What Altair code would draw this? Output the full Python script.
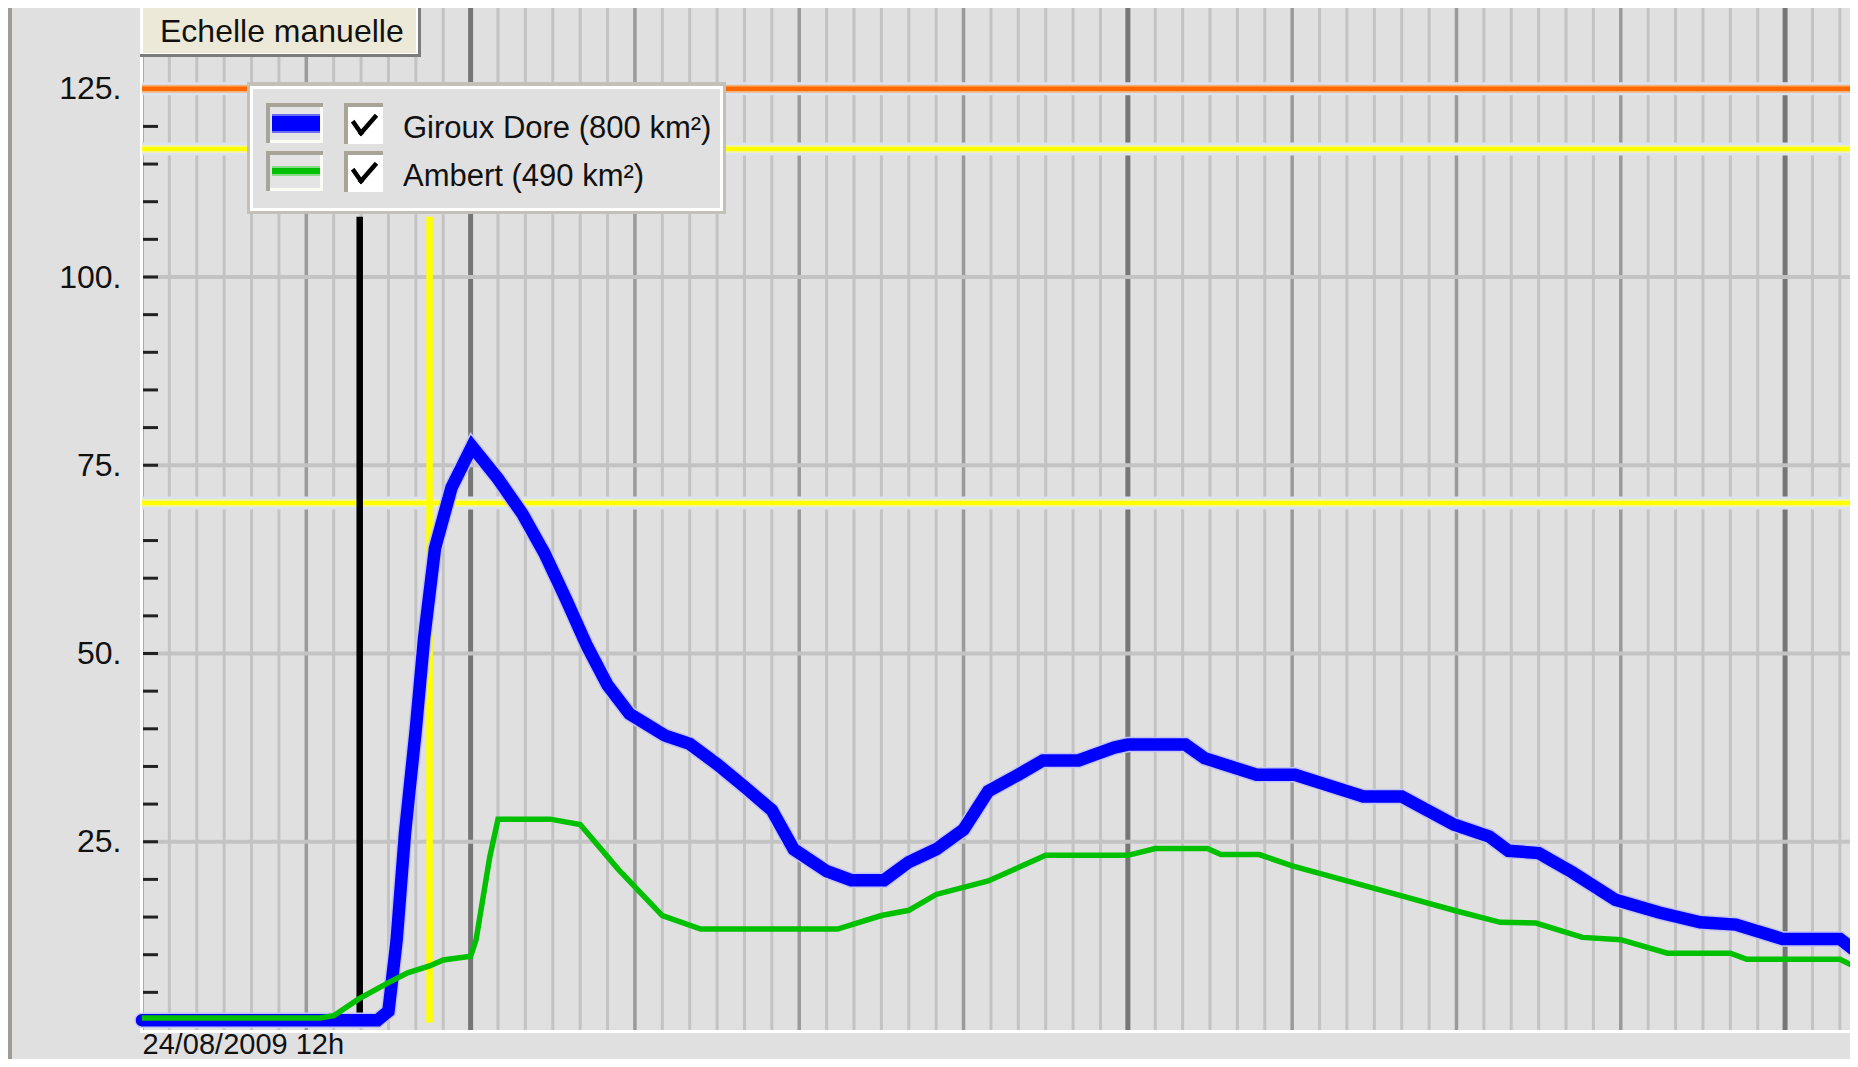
import altair as alt
import pandas as pd

# ---------------- data ----------------
# hours after 24/08/2009 12h
giroux_hours = [0, 8.6, 9.0, 9.3, 9.6, 10.0, 10.3, 10.7, 11.0, 11.3, 12.05, 13.0, 13.9, 14.7,
                15.5, 16.25, 17.0, 17.8, 19.1, 20.0, 21.0, 22.0, 23.0, 23.8, 25.0, 25.9, 27.1,
                28.0, 29.0, 30.0, 30.9, 32.0, 32.9, 34.2, 35.5, 36.0, 38.1, 38.8, 40.7, 42.1,
                44.6, 46.0, 47.9, 49.2, 49.9, 51.0, 52.25, 53.8, 55.4, 56.9, 58.2, 59.9, 62.0, 62.5]
giroux_flow = [1.3, 1.3, 2.5, 12, 26, 40, 52, 64, 68, 72, 77.5, 73.2, 68.5, 63.3,
               57.1, 51.0, 45.8, 42.0, 39.1, 38.0, 35.3, 32.3, 29.2, 24.0, 21.1, 19.9, 19.9,
               22.3, 24.0, 26.6, 31.7, 33.9, 35.8, 35.8, 37.5, 37.9, 37.9, 36.1, 33.9, 33.9,
               31.0, 31.0, 27.3, 25.7, 23.8, 23.5, 20.9, 17.3, 15.6, 14.3, 14.0, 12.1, 12.1, 10.7]

ambert_hours = [0, 6.5, 7.0, 7.9, 9.0, 9.7, 10.5, 11.0, 12.0, 12.2, 12.7, 13.0, 14.9, 16.0,
                17.4, 19.0, 20.4, 25.4, 27.0, 28.0, 29.0, 30.9, 33.0, 36.0, 37.0, 38.9, 39.4,
                40.8, 42.0, 44.0, 45.9, 48.0, 49.6, 50.9, 52.6, 54.0, 55.7, 58.0, 58.6, 62.0, 62.5]
ambert_flow = [1.6, 1.6, 1.9, 4.1, 6.3, 7.6, 8.5, 9.3, 9.8, 12.0, 23.0, 28.0, 28.0, 27.3,
               21.3, 15.2, 13.4, 13.4, 15.2, 15.9, 18.0, 19.8, 23.2, 23.2, 24.1, 24.1, 23.3,
               23.3, 21.8, 19.8, 17.9, 15.8, 14.3, 14.2, 12.3, 12.0, 10.2, 10.2, 9.4, 9.4, 8.5]

series_names = ["Giroux Dore (800 km²)", "Ambert (490 km²)"]
series_colors = ["#0000ff", "#00c000"]

threshold_values = [125, 117, 70]
threshold_colors = ["#ff6a00", "#ffff00", "#ffff00"]

event_hours = [7.95, 10.5]
event_colors = ["#000000", "#ffff00"]
event_from = 1.0
event_to = 108.0

y_label_values = [25, 50, 75, 100, 125]
grid_values = [25, 50, 75, 100, 125]
y_tick_values = list(range(5, 136, 5))
x_label_hours = [0]
x_label_text = "24/08/2009 12h"
button_text = "Echelle manuelle"

# ---------------- layout ----------------
PX0, PY0 = 142, 8          # page position of plot origin
W, H = 1708, 1022
X_MAX = W / 27.385
Y_MAX = H / 7.53
FONT = "Liberation Sans, Arial, sans-serif"
FS = 32

xs = alt.Scale(domain=[0, X_MAX], nice=False, zero=False)
ys = alt.Scale(domain=[0, Y_MAX], nice=False, zero=False)

xaxis = alt.Axis(values=x_label_hours, labelExpr=f"'{x_label_text}'", title=None, domain=False,
                 ticks=False, tickSize=0, grid=False, labelFont=FONT, labelFontSize=29,
                 labelColor="#111111", labelPadding=23, labelBaseline="alphabetic",
                 labelAlign="left", labelLimit=0, labelOverlap=False)
yaxis = alt.Axis(values=y_label_values, labelExpr="datum.value + '.'", title=None, domain=False,
                 ticks=False, tickSize=0, grid=False, labelFont=FONT, labelFontSize=FS,
                 labelColor="#111111", labelPadding=21, labelBaseline="middle",
                 labelAlign="right", labelLimit=0)


def X():
    return alt.X("h:Q", scale=xs, axis=xaxis)


def Y():
    return alt.Y("v:Q", scale=ys, axis=yaxis)


one = pd.DataFrame({"k": [0]})


def rect(x1, y1, x2, y2, color):
    return alt.Chart(one).mark_rect(color=color).encode(
        x=alt.value(x1 - PX0), x2=alt.value(x2 - PX0),
        y=alt.value(y1 - PY0), y2=alt.value(y2 - PY0))


def seg(x1, y1, x2, y2, color, w):
    return alt.Chart(one).mark_rule(color=color, strokeWidth=w, strokeCap="square").encode(
        x=alt.value(x1 - PX0), x2=alt.value(x2 - PX0),
        y=alt.value(y1 - PY0), y2=alt.value(y2 - PY0))


def label(x, y, txt, size=FS):
    return alt.Chart(one).mark_text(text=txt, align="left", baseline="alphabetic", font=FONT,
                                    fontSize=size, color="#111111").encode(
        x=alt.value(x - PX0), y=alt.value(y - PY0))


layers = []

# vertical grid (hourly / 6-hourly / daily)
hours = list(range(0, 63))
kinds = ["day" if (h + 12) % 24 == 0 else ("six" if (h + 12) % 6 == 0 else "hour") for h in hours]
gdf = pd.DataFrame({"h": hours, "kind": kinds})
for kind, col, w in [("hour", "#c3c3c3", 3), ("six", "#9a9a9a", 3.5), ("day", "#767676", 5)]:
    layers.append(alt.Chart(gdf[gdf.kind == kind]).mark_rule(color=col, strokeWidth=w).encode(x=X()))

# horizontal grid
layers.append(alt.Chart(pd.DataFrame({"v": grid_values})).mark_rule(color="#c3c3c3", strokeWidth=4).encode(y=Y()))

# plot white border
layers.append(alt.Chart(one).mark_rule(color="#ffffff", strokeWidth=3).encode(
    x=alt.value(-0.5), y=alt.value(0), y2=alt.value(H + 2)))
layers.append(alt.Chart(one).mark_rule(color="#ffffff", strokeWidth=3).encode(
    x=alt.value(-2), x2=alt.value(W + 4), y=alt.value(H + 1.5)))

# left panel border
layers.append(rect(8, 0, 12, 1070, "#a09c94"))

# y tick dashes (inside the plot)
layers.append(alt.Chart(pd.DataFrame({"v": y_tick_values})).mark_rule(color="#222222", strokeWidth=3).encode(
    y=Y(), x=alt.value(1), x2=alt.value(16)))

# threshold lines
tdf = pd.DataFrame({"v": threshold_values, "c": threshold_colors})
layers.append(alt.Chart(tdf).mark_rule(color="#dbe4ee", strokeWidth=13).encode(y=Y()))
layers.append(alt.Chart(tdf.iloc[:1]).mark_rule(color="#f3b27c", strokeWidth=8).encode(y=Y()))
layers.append(alt.Chart(tdf.iloc[1:]).mark_rule(color="#f2f2b0", strokeWidth=8).encode(y=Y()))
layers.append(alt.Chart(tdf).mark_rule(strokeWidth=4.5).encode(y=Y(), color=alt.Color("c:N", scale=None)))

# event vertical lines
edf = pd.DataFrame({"h": event_hours, "v": [event_from] * 2, "v2": [event_to] * 2, "c": event_colors})
layers.append(alt.Chart(edf).mark_rule(strokeWidth=6.5).encode(
    x=X(), y=Y(), y2=alt.Y2("v2:Q"), color=alt.Color("c:N", scale=None)))

# series
bdf = pd.DataFrame({"h": giroux_hours, "v": giroux_flow})
adf = pd.DataFrame({"h": ambert_hours, "v": ambert_flow})
layers.append(alt.Chart(bdf).mark_line(color="#c4c4f2", strokeWidth=15.5, strokeJoin="miter", strokeCap="round").encode(x=X(), y=Y()))
layers.append(alt.Chart(bdf).mark_line(color=series_colors[0], strokeWidth=12.5, strokeJoin="miter", strokeCap="round").encode(x=X(), y=Y()))
layers.append(alt.Chart(adf).mark_line(color=series_colors[1], strokeWidth=5.5, strokeJoin="miter").encode(x=X(), y=Y()))

# button "Echelle manuelle"
layers += [rect(140, 8, 421, 57, "#7c7c7c"), rect(140, 8, 418, 54, "#ffffff"),
           rect(143, 8, 416, 53, "#ece9d8"), label(160, 42, button_text)]

# legend box
layers += [rect(247, 82, 726, 214, "#c4c0b8"), rect(250, 86, 723, 211, "#ffffff"),
           rect(253, 89, 720, 208, "#e0e0e0")]
row_dy = 48
for i, (name, col) in enumerate(zip(series_names, series_colors)):
    dy = i * row_dy
    # swatch box
    layers += [rect(266, 103 + dy, 323, 143 + dy, "#a8a498"), rect(270, 107 + dy, 323, 143 + dy, "#fbfbf6"),
               rect(270, 107 + dy, 320, 140 + dy, "#e4e4e4")]
    if i == 0:
        layers += [rect(272, 114, 320, 133, "#6b6bf5"), rect(272, 116, 320, 131, col)]
    else:
        layers += [rect(272, 166, 320, 176, "#86dc86"), rect(272, 168, 320, 174, col)]
    # checkbox
    layers += [rect(344, 103 + dy, 383, 144 + dy, "#a8a498"), rect(348, 107 + dy, 383, 144 + dy, "#ffffff")]
    layers += [seg(354, 123 + dy, 361, 133 + dy, "#000000", 4.5), seg(361, 133 + dy, 375, 117 + dy, "#000000", 4.5)]
    layers.append(label(403, 138 + dy, name, 31))

chart = alt.layer(*layers).properties(
    width=W, height=H,
    padding={"left": 134, "top": 0, "right": 0, "bottom": 29},
    autosize=alt.AutoSizeParams(type="none"),
    background="#e0e0e0",
).configure_view(fill="#e0e0e0", strokeWidth=0)

chart.save("out.html", embed_options={"renderer": "svg", "actions": False})
